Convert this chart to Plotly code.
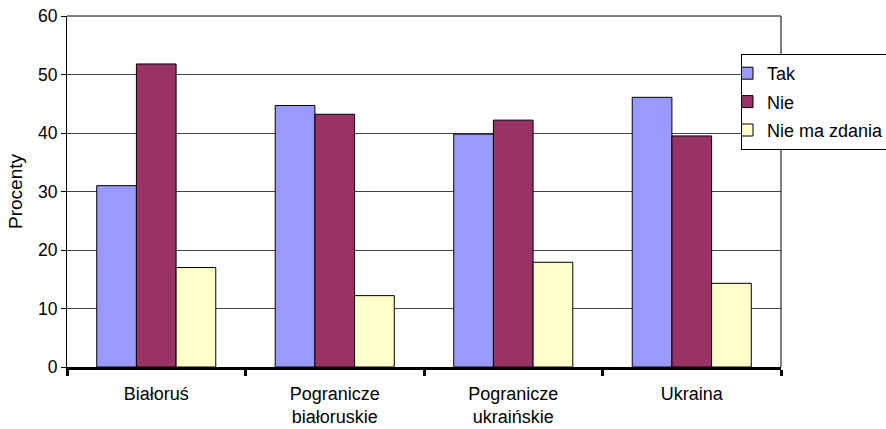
import plotly.graph_objects as go

# Survey answers by region (percent of respondents)
regions = ["Białoruś", "Pogranicze<br>białoruskie", "Pogranicze<br>ukraińskie", "Ukraina"]
tak = [31.0, 44.7, 39.8, 46.1]
nie = [51.8, 43.2, 42.2, 39.5]
nie_ma_zdania = [17.0, 12.2, 17.9, 14.3]

series = [
    ("Tak", tak, "#9999FF"),
    ("Nie", nie, "#993366"),
    ("Nie ma zdania", nie_ma_zdania, "#FFFFCC"),
]

font_family = "Liberation Sans, Arial, sans-serif"

# plot area in pixels
L, R, T, B = 67, 105, 16, 62
W, H = 886, 429
plot_w = W - L - R
plot_h = H - T - B

fig = go.Figure()
for name, values, color in series:
    fig.add_trace(go.Bar(
        name=name,
        legendgroup=name,
        x=regions,
        y=values,
        marker=dict(color=color, line=dict(color="black", width=1)),
    ))

fig.update_layout(
    width=W,
    height=H,
    margin=dict(l=L, r=R, t=T, b=B, autoexpand=False),
    paper_bgcolor="white",
    plot_bgcolor="white",
    barmode="group",
    bargap=0.333,
    bargroupgap=0,
    font=dict(family=font_family, size=17, color="black"),
    showlegend=True,
    legend=dict(
        x=(741 - L) / plot_w, xanchor="left",
        y=(H - B - 54) / plot_h, yanchor="top",
        bgcolor="white",
        bordercolor="black",
        borderwidth=1,
        font=dict(size=18, family=font_family),
        itemwidth=30,
        indentation=-15,
        traceorder="grouped",
        tracegroupgap=2,
    ),
    xaxis=dict(
        showline=True,
        linecolor="black",
        linewidth=3,
        ticks="outside",
        tickson="boundaries",
        ticklen=6,
        tickwidth=3,
        tickcolor="black",
        showgrid=False,
        tickfont=dict(size=18),
        ticklabelstandoff=8,
    ),
    yaxis=dict(
        range=[0, 60],
        dtick=10,
        showline=True,
        linecolor="black",
        linewidth=1,
        ticks="outside",
        ticklen=5,
        tickcolor="black",
        showgrid=True,
        gridcolor="#444444",
        gridwidth=1,
        zeroline=False,
        tickfont=dict(size=17.5),
        title=dict(text="Procenty", font=dict(size=19), standoff=10),
    ),
    shapes=[
        dict(type="line", xref="paper", yref="paper", x0=0, x1=1, y0=1, y1=1,
             line=dict(color="black", width=1)),
        dict(type="line", xref="paper", yref="paper", x0=1, x1=1, y0=0, y1=1,
             line=dict(color="black", width=1)),
    ],
)

fig.write_html("out.html")
